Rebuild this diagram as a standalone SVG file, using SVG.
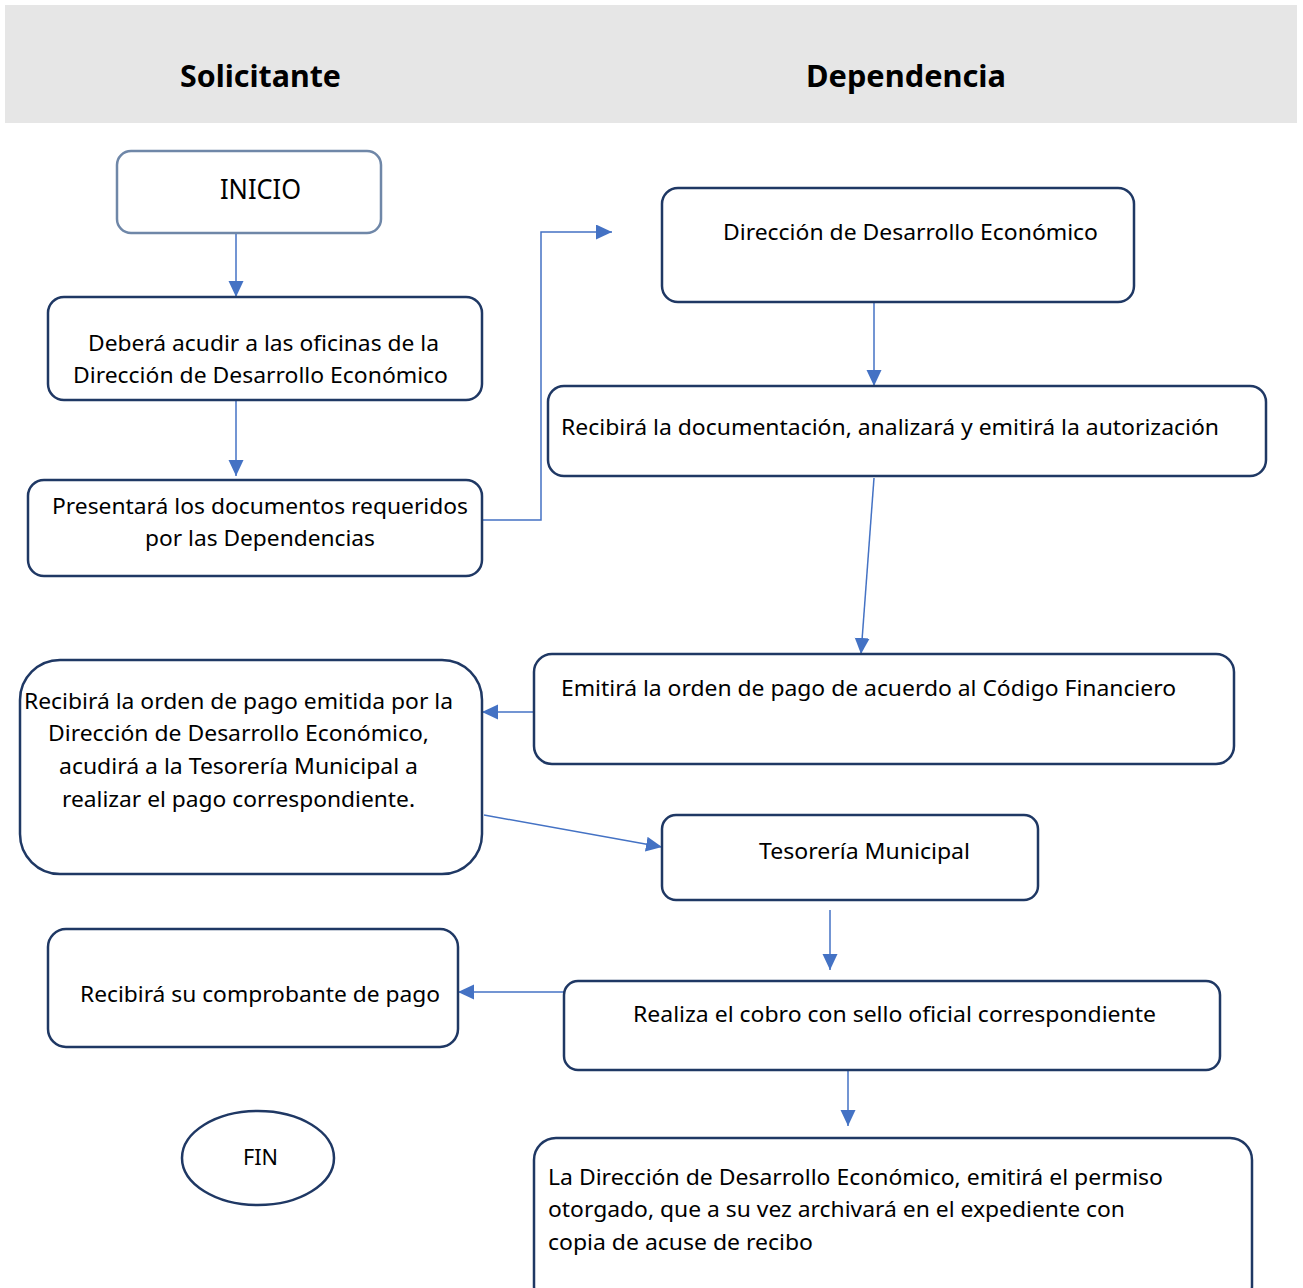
<svg xmlns="http://www.w3.org/2000/svg" width="1303" height="1288" viewBox="0 0 1303 1288">
<style>
.box{fill:#fff;stroke:#1f3864;stroke-width:2.5}
.start{fill:#fff;stroke:#6f87a8;stroke-width:2.5}
.t{font-family:"Noto Sans","Liberation Sans",sans-serif;font-size:22px;fill:#000}
.h{font-family:"Noto Sans","Liberation Sans",sans-serif;font-size:30px;font-weight:bold;fill:#000}
.c{fill:none;stroke:#4472c4;stroke-width:1.5}
</style>
<defs>
<marker id="ah" markerUnits="userSpaceOnUse" markerWidth="18" markerHeight="16" refX="16" refY="7.5" orient="auto">
<path d="M0,0 L16,7.5 L0,15 Z" fill="#4472c4"/>
</marker>
</defs>
<rect x="5" y="5" width="1292" height="118" fill="#e6e6e6"/>
<text class="h" x="180" y="87" textLength="161" lengthAdjust="spacingAndGlyphs">Solicitante</text>
<text class="h" x="806" y="87" textLength="200" lengthAdjust="spacingAndGlyphs">Dependencia</text>

<g id="connectors">
<path class="c" d="M236,233 V297" marker-end="url(#ah)"/>
<path class="c" d="M236,400 V476" marker-end="url(#ah)"/>
<path class="c" d="M470,520 H541 V232 H612" marker-end="url(#ah)"/>
<path class="c" d="M874,302 V386" marker-end="url(#ah)"/>
<path class="c" d="M874,478 L861,654" marker-end="url(#ah)"/>
<path class="c" d="M534,712 H482" marker-end="url(#ah)"/>
<path class="c" d="M484,815 L662,847" marker-end="url(#ah)"/>
<path class="c" d="M830,910 V970" marker-end="url(#ah)"/>
<path class="c" d="M564,992 H458" marker-end="url(#ah)"/>
<path class="c" d="M848,1070 V1126" marker-end="url(#ah)"/>
</g>

<g id="inicio">
<rect class="start" x="117" y="151" width="264" height="82" rx="14"/>
<text class="t" x="220" y="199" style="font-size:27px" textLength="81" lengthAdjust="spacingAndGlyphs">INICIO</text>
</g>
<g id="acudir">
<rect class="box" x="48" y="297" width="434" height="103" rx="16"/>
<text class="t" x="88" y="351" textLength="351" lengthAdjust="spacingAndGlyphs">Deberá acudir a las oficinas de la</text>
<text class="t" x="73" y="383" textLength="375" lengthAdjust="spacingAndGlyphs">Dirección de Desarrollo Económico</text>
</g>
<g id="presentara">
<rect class="box" x="28" y="480" width="454" height="96" rx="16"/>
<text class="t" x="52" y="514" textLength="416" lengthAdjust="spacingAndGlyphs">Presentará los documentos requeridos</text>
<text class="t" x="145" y="546" textLength="230" lengthAdjust="spacingAndGlyphs">por las Dependencias</text>
</g>
<g id="direccion">
<rect class="box" x="662" y="188" width="472" height="114" rx="16"/>
<text class="t" x="723" y="240" textLength="375" lengthAdjust="spacingAndGlyphs">Dirección de Desarrollo Económico</text>
</g>
<g id="recibira-doc">
<rect class="box" x="548" y="386" width="718" height="90" rx="16"/>
<text class="t" x="561" y="435" textLength="658" lengthAdjust="spacingAndGlyphs">Recibirá la documentación, analizará y emitirá la autorización</text>
</g>
<g id="emitira-orden">
<rect class="box" x="534" y="654" width="700" height="110" rx="18"/>
<text class="t" x="561" y="696" textLength="615" lengthAdjust="spacingAndGlyphs">Emitirá la orden de pago de acuerdo al Código Financiero</text>
</g>
<g id="recibira-orden">
<rect class="box" x="20" y="660" width="462" height="214" rx="40"/>
<text class="t" x="24" y="709" textLength="429" lengthAdjust="spacingAndGlyphs">Recibirá la orden de pago emitida por la</text>
<text class="t" x="48" y="741" textLength="381" lengthAdjust="spacingAndGlyphs">Dirección de Desarrollo Económico,</text>
<text class="t" x="59" y="774" textLength="359" lengthAdjust="spacingAndGlyphs">acudirá a la Tesorería Municipal a</text>
<text class="t" x="62" y="807" textLength="353" lengthAdjust="spacingAndGlyphs">realizar el pago correspondiente.</text>
</g>
<g id="tesoreria">
<rect class="box" x="662" y="815" width="376" height="85" rx="14"/>
<text class="t" x="759" y="859" textLength="211" lengthAdjust="spacingAndGlyphs">Tesorería Municipal</text>
</g>
<g id="comprobante">
<rect class="box" x="48" y="929" width="410" height="118" rx="18"/>
<text class="t" x="80" y="1002" textLength="360" lengthAdjust="spacingAndGlyphs">Recibirá su comprobante de pago</text>
</g>
<g id="cobro">
<rect class="box" x="564" y="981" width="656" height="89" rx="14"/>
<text class="t" x="633" y="1022" textLength="523" lengthAdjust="spacingAndGlyphs">Realiza el cobro con sello oficial correspondiente</text>
</g>
<g id="fin">
<ellipse class="box" cx="258" cy="1158" rx="76" ry="47"/>
<text class="t" x="243" y="1165" textLength="35" lengthAdjust="spacingAndGlyphs">FIN</text>
</g>
<g id="permiso">
<rect class="box" x="534" y="1138" width="718" height="170" rx="22"/>
<text class="t" x="548" y="1185" textLength="615" lengthAdjust="spacingAndGlyphs">La Dirección de Desarrollo Económico, emitirá el permiso</text>
<text class="t" x="548" y="1217" textLength="577" lengthAdjust="spacingAndGlyphs">otorgado, que a su vez archivará en el expediente con</text>
<text class="t" x="548" y="1250" textLength="265" lengthAdjust="spacingAndGlyphs">copia de acuse de recibo</text>
</g>
</svg>
